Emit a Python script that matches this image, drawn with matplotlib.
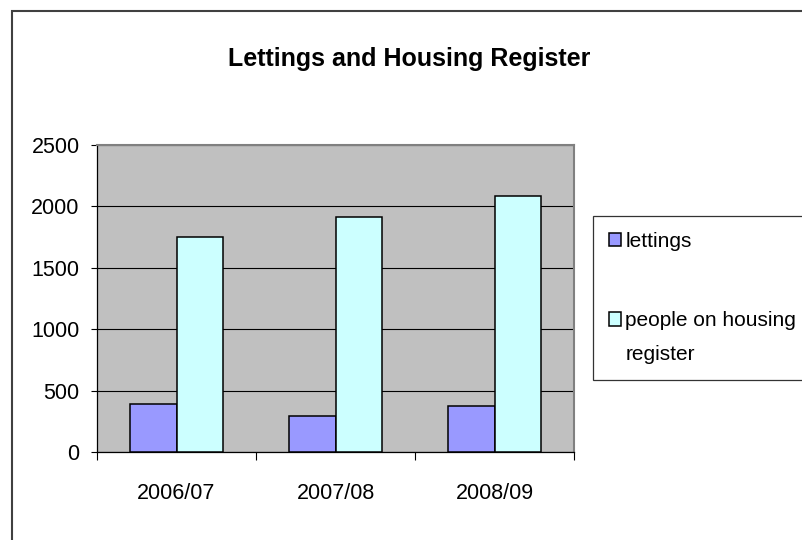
import matplotlib
matplotlib.use('agg')
import matplotlib.pyplot as plt
from matplotlib.patches import Rectangle
from matplotlib.legend_handler import HandlerPatch
import numpy as np

years = ["2006/07", "2007/08", "2008/09"]
lettings = [390, 295, 375]
register = [1750, 1915, 2085]
y_ticks = [0, 500, 1000, 1500, 2000, 2500]

plt.rcParams['font.family'] = ['Liberation Sans', 'DejaVu Sans']

fig = plt.figure(figsize=(8.02, 5.4), dpi=100)
ax = fig.add_axes([97 / 802, 1 - 452 / 540, 477 / 802, 307 / 540])

x = np.arange(len(years))
w = 0.29
b1 = ax.bar(x - w / 2, lettings, w, color="#9999FF", edgecolor="black",
            linewidth=1.1, label="lettings", zorder=3)
b2 = ax.bar(x + w / 2, register, w, color="#CCFFFF", edgecolor="black",
            linewidth=1.1, label="people on housing\nregister", zorder=3)

ax.set_facecolor("#C0C0C0")
ax.set_xlim(-0.5, 2.5)
ax.set_ylim(0, 2500)
ax.set_yticks(y_ticks)
ax.yaxis.grid(True, color="black", linewidth=0.8)
ax.set_axisbelow(True)

# boundaries get the tick marks, category centres get the labels
ax.set_xticks(np.arange(-0.5, len(years), 1.0))
ax.set_xticklabels([])
ax.set_xticks(x, minor=True)
ax.set_xticklabels(years, minor=True)
ax.tick_params(axis="x", which="major", direction="out", length=6, width=0.8)
ax.tick_params(axis="x", which="minor", length=0, pad=22, labelsize=15.5)
ax.tick_params(axis="y", direction="out", length=4.5, width=0.8, pad=8,
               labelsize=15.5)

for side in ("top", "right"):
    ax.spines[side].set_color("#808080")
    ax.spines[side].set_linewidth(1.5)
for side in ("left", "bottom"):
    ax.spines[side].set_color("black")
    ax.spines[side].set_linewidth(0.9)

fig.text(409 / 802, 1 - 66 / 540, "Lettings and Housing Register",
         ha="center", va="baseline", fontsize=18, fontweight="bold")


# keep the swatch level with the first line of a two-line label
def top_swatch(legend, orig_handle, xdescent, ydescent, width, height, fontsize):
    shift = 0.9 * fontsize
    return Rectangle((-xdescent, -ydescent + shift), width, height)


h1, h2 = b1.patches[0], b2.patches[0]
leg = ax.legend([h1, h2], [b1.get_label(), b2.get_label()],
                loc="upper left", bbox_to_anchor=(593 / 802, 1 - 216 / 540),
                bbox_transform=fig.transFigure, borderaxespad=0,
                fontsize=15, frameon=True, fancybox=False,
                handlelength=0.6, handleheight=0.6, handletextpad=0.2,
                borderpad=0.75, labelspacing=2.9,
                handler_map={h2: HandlerPatch(patch_func=top_swatch)})
leg.get_frame().set_edgecolor("black")
leg.get_frame().set_linewidth(0.9)
for t in leg.get_texts():
    t.set_linespacing(2.0)

# outer chart border
fig.patches.append(Rectangle((12 / 802, -0.1), 1.2, 1 - 11 / 540 + 0.1,
                             transform=fig.transFigure, fill=False,
                             edgecolor="#404040", linewidth=1.5))

fig.savefig("out.png", dpi=100)
